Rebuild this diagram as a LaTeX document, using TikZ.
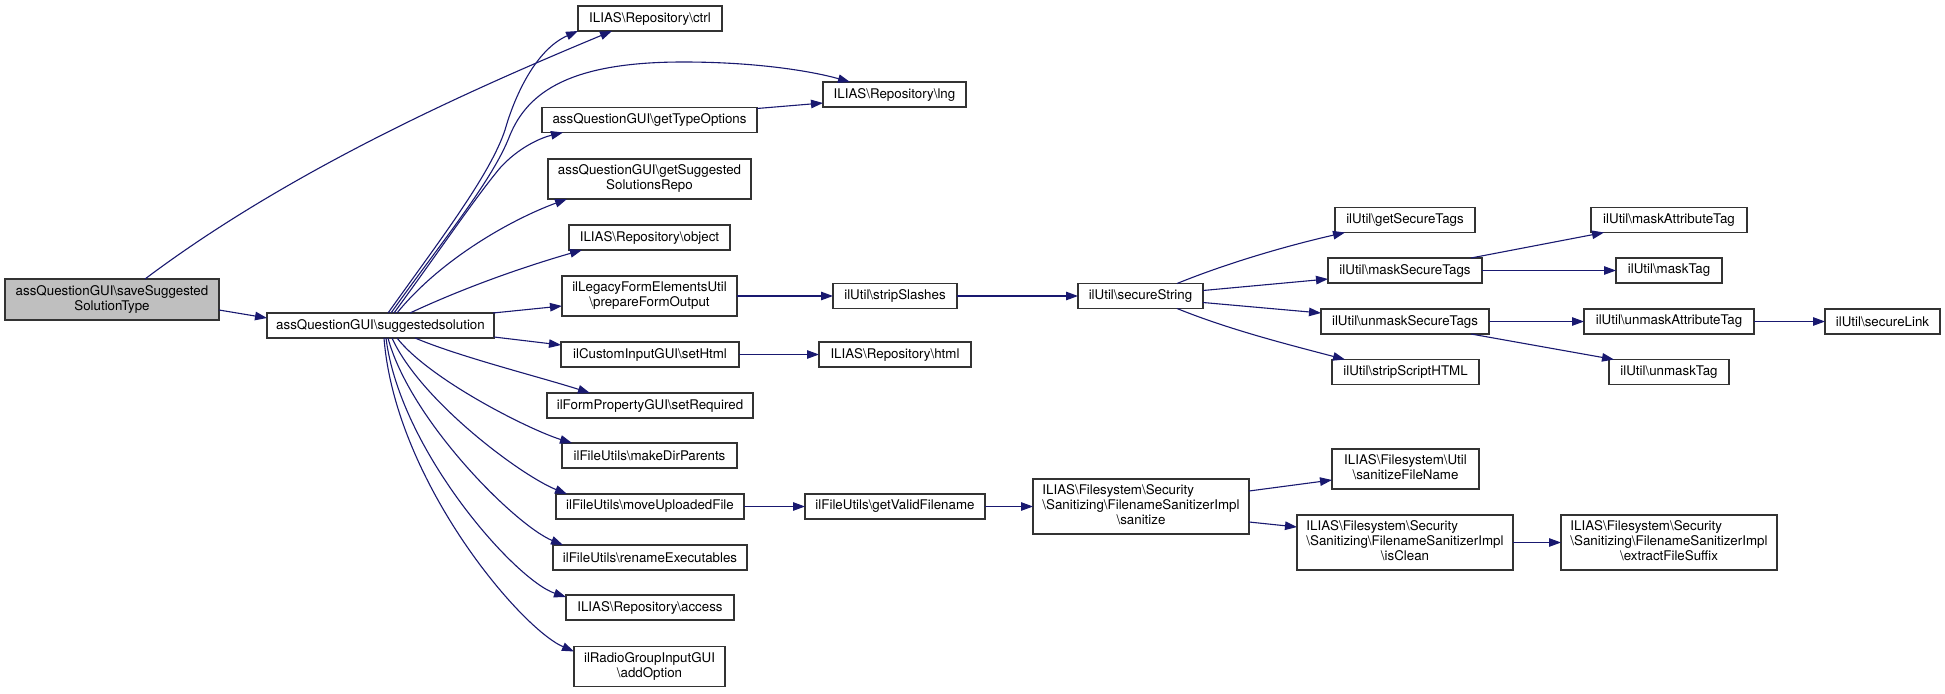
\documentclass[tikz,border=0pt]{standalone}
\usepackage{fontspec}
\setmainfont{TeX Gyre Heros}
\usetikzlibrary{arrows.meta,calc}
\definecolor{nodegray}{HTML}{BFBFBF}
\definecolor{edgeblue}{HTML}{191970}
\newcommand{\BSL}{\textbackslash{}}
\newcommand{\mlines}[2]{\begin{tabular}{@{}l@{}}#1\\\multicolumn{1}{@{}c@{}}{#2}\end{tabular}}
\begin{document}
\begin{tikzpicture}[x=1pt,y=-1pt,
  fnbox/.style={draw=black!80, line width=1.3pt, fill=white, inner sep=0pt, outer sep=0pt,
    font=\fontsize{13.33}{15}\selectfont, align=center},
  calledge/.style={draw=edgeblue, line width=1.1pt, -{Triangle[length=12pt,width=8.5pt]}}]
\useasboundingbox[fill=white] (0,0) rectangle (1945,693);

% column 1
\node[fnbox, fill=nodegray, minimum width=214pt, minimum height=41pt] (save) at (112,299.5)
  {\mlines{assQuestionGUI\BSL saveSuggested}{SolutionType}};
% column 2
\node[fnbox, minimum width=227pt, minimum height=25pt] (sugg) at (380.5,325.5) {assQuestionGUI\BSL suggestedsolution};
% column 3
\node[fnbox, minimum width=144pt, minimum height=25pt] (ctrl) at (650,18.5) {ILIAS\BSL Repository\BSL ctrl};
\node[fnbox, minimum width=215pt, minimum height=25pt] (gto) at (649.5,120) {assQuestionGUI\BSL getTypeOptions};
\node[fnbox, minimum width=203pt, minimum height=40pt] (gssr) at (649.5,179) {\mlines{assQuestionGUI\BSL getSuggested}{SolutionsRepo}};
\node[fnbox, minimum width=161pt, minimum height=25pt] (obj) at (649.5,237.5) {ILIAS\BSL Repository\BSL object};
\node[fnbox, minimum width=175pt, minimum height=40pt] (pfo) at (649.5,296) {\mlines{ilLegacyFormElementsUtil}{\BSL prepareFormOutput}};
\node[fnbox, minimum width=178pt, minimum height=25pt] (seth) at (650,354.5) {ilCustomInputGUI\BSL setHtml};
\node[fnbox, minimum width=206pt, minimum height=25pt] (setr) at (650,405.5) {ilFormPropertyGUI\BSL setRequired};
\node[fnbox, minimum width=175pt, minimum height=25pt] (mdp) at (649.5,455.5) {ilFileUtils\BSL makeDirParents};
\node[fnbox, minimum width=188pt, minimum height=25pt] (muf) at (650,506.5) {ilFileUtils\BSL moveUploadedFile};
\node[fnbox, minimum width=194pt, minimum height=25pt] (ren) at (650,557.5) {ilFileUtils\BSL renameExecutables};
\node[fnbox, minimum width=168pt, minimum height=25pt] (acc) at (650,607.5) {ILIAS\BSL Repository\BSL access};
\node[fnbox, minimum width=151pt, minimum height=40pt] (addo) at (649.5,666.5) {\mlines{ilRadioGroupInputGUI}{\BSL addOption}};
% column 4
\node[fnbox, minimum width=143pt, minimum height=25pt] (lng) at (894.5,94.5) {ILIAS\BSL Repository\BSL lng};
\node[fnbox, minimum width=124pt, minimum height=25pt] (strip) at (895,296) {ilUtil\BSL stripSlashes};
\node[fnbox, minimum width=152pt, minimum height=25pt] (html) at (895,354.5) {ILIAS\BSL Repository\BSL html};
\node[fnbox, minimum width=180pt, minimum height=25pt] (gvf) at (895,506.5) {ilFileUtils\BSL getValidFilename};
% column 5
\node[fnbox, minimum width=125pt, minimum height=25pt] (secs) at (1140.5,296) {ilUtil\BSL secureString};
\node[fnbox, minimum width=216pt, minimum height=55pt] (san) at (1141,506.5)
  {\mlines{ILIAS\BSL Filesystem\BSL Security\\\BSL Sanitizing\BSL FilenameSanitizerImpl}{\BSL sanitize}};
% column 6
\node[fnbox, minimum width=140pt, minimum height=25pt] (gst) at (1405,220) {ilUtil\BSL getSecureTags};
\node[fnbox, minimum width=154pt, minimum height=25pt] (mst) at (1405,270.5) {ilUtil\BSL maskSecureTags};
\node[fnbox, minimum width=168pt, minimum height=25pt] (ust) at (1405,321.5) {ilUtil\BSL unmaskSecureTags};
\node[fnbox, minimum width=147pt, minimum height=25pt] (ssh) at (1405.5,372) {ilUtil\BSL stripScriptHTML};
\node[fnbox, minimum width=147pt, minimum height=40pt] (sfn) at (1405.5,469) {\mlines{ILIAS\BSL Filesystem\BSL Util}{\BSL sanitizeFileName}};
\node[fnbox, minimum width=216pt, minimum height=55pt] (isc) at (1405,542.5)
  {\mlines{ILIAS\BSL Filesystem\BSL Security\\\BSL Sanitizing\BSL FilenameSanitizerImpl}{\BSL isClean}};
% column 7
\node[fnbox, minimum width=156pt, minimum height=25pt] (mat) at (1669,220) {ilUtil\BSL maskAttributeTag};
\node[fnbox, minimum width=106pt, minimum height=25pt] (mt) at (1669,270.5) {ilUtil\BSL maskTag};
\node[fnbox, minimum width=170pt, minimum height=25pt] (uat) at (1669,321.5) {ilUtil\BSL unmaskAttributeTag};
\node[fnbox, minimum width=120pt, minimum height=25pt] (ut) at (1669,372) {ilUtil\BSL unmaskTag};
\node[fnbox, minimum width=216pt, minimum height=55pt] (efs) at (1669,542.5)
  {\mlines{ILIAS\BSL Filesystem\BSL Security\\\BSL Sanitizing\BSL FilenameSanitizerImpl}{\BSL extractFileSuffix}};
% column 8
\node[fnbox, minimum width=115pt, minimum height=25pt] (sl) at (1882.5,321.5) {ilUtil\BSL secureLink};

% edges from save
\draw[calledge] ($(save.north west)+(140,0)$) .. controls (290,170) and (470,90) .. ($(ctrl.north west)+(34,25)$);
\draw[calledge] ($(save.north west)+(214,31)$) -- ($(sugg.north west)+(0,5)$);

% edges from suggestedsolution (upwards)
\draw[calledge] ($(sugg.north west)+(121,0)$) .. controls (440,240) and (490,175) .. (505,130)
  .. controls (514,98) and (535,50) .. ($(ctrl.north west)+(0,25)$);
\draw[calledge] ($(sugg.north west)+(124,0)$) .. controls (443,240) and (493,180) .. (510,135)
  .. controls (528,92) and (570,62) .. (683,62) .. controls (760,62) and (815,72) .. ($(lng.north west)+(27,0)$);
\draw[calledge] ($(sugg.north west)+(127,0)$) .. controls (440,250) and (475,198) .. (500,168)
  .. controls (518,148) and (540,138) .. ($(gto.north west)+(21,25)$);
\draw[calledge] ($(sugg.north west)+(130,0)$) .. controls (440,260) and (510,220) .. ($(gssr.north west)+(19,40)$);
\draw[calledge] ($(sugg.north west)+(143,0)$) .. controls (470,285) and (530,265) .. ($(obj.north west)+(13,25)$);
\draw[calledge] ($(sugg.north west)+(226,0)$) -- ($(pfo.north west)+(0,30)$);
\draw[calledge] ($(sugg.north west)+(227,24)$) -- ($(seth.north west)+(0,3)$);

% edges from suggestedsolution (downwards)
\draw[calledge] ($(sugg.north west)+(148,25)$) .. controls (460,357) and (540,377) .. ($(setr.north west)+(43,0)$);
\draw[calledge] ($(sugg.north west)+(130,25)$) .. controls (430,380) and (530,430) .. ($(mdp.north west)+(10,0)$);
\draw[calledge] ($(sugg.north west)+(125,25)$) .. controls (420,400) and (520,475) .. ($(muf.north west)+(11,0)$);
\draw[calledge] ($(sugg.north west)+(121,25)$) .. controls (410,420) and (515,525) .. ($(ren.north west)+(10,0)$);
\draw[calledge] ($(sugg.north west)+(119,25)$) .. controls (400,450) and (515,580) .. ($(acc.north west)+(0,2)$);
\draw[calledge] ($(sugg.north west)+(117,25)$) .. controls (395,480) and (520,628) .. ($(addo.north west)+(0,5)$);

% further edges
\draw[calledge] ($(gto.north west)+(215,1)$) -- ($(lng.north west)+(0,21)$);
\draw[calledge] (pfo.east) -- (strip.west);
\draw[calledge] (seth.east) -- (html.west);
\draw[calledge] (muf.east) -- (gvf.west);
\draw[calledge] (strip.east) -- (secs.west);
\draw[calledge] (gvf.east) -- (san.west);
\draw[calledge] ($(secs.north west)+(99,0)$) .. controls (1230,262) and (1290,245) .. ($(gst.north west)+(10,25)$);
\draw[calledge] ($(secs.north west)+(125,7)$) -- ($(mst.north west)+(0,21)$);
\draw[calledge] ($(secs.north west)+(125,19)$) -- ($(ust.north west)+(0,4)$);
\draw[calledge] ($(secs.north west)+(99,25)$) .. controls (1230,330) and (1290,345) .. ($(ssh.north west)+(13,0)$);
\draw[calledge] ($(mst.north west)+(143,0)$) -- ($(mat.north west)+(13,25)$);
\draw[calledge] (mst.east) -- (mt.west);
\draw[calledge] (ust.east) -- (uat.west);
\draw[calledge] ($(ust.north west)+(150,25)$) -- ($(ut.north west)+(5,0)$);
\draw[calledge] (uat.east) -- (sl.west);
\draw[calledge] ($(san.north west)+(216,12)$) -- ($(sfn.north west)+(0,31)$);
\draw[calledge] ($(san.north west)+(216,43)$) -- ($(isc.north west)+(0,12)$);
\draw[calledge] (isc.east) -- (efs.west);
\end{tikzpicture}
\end{document}
